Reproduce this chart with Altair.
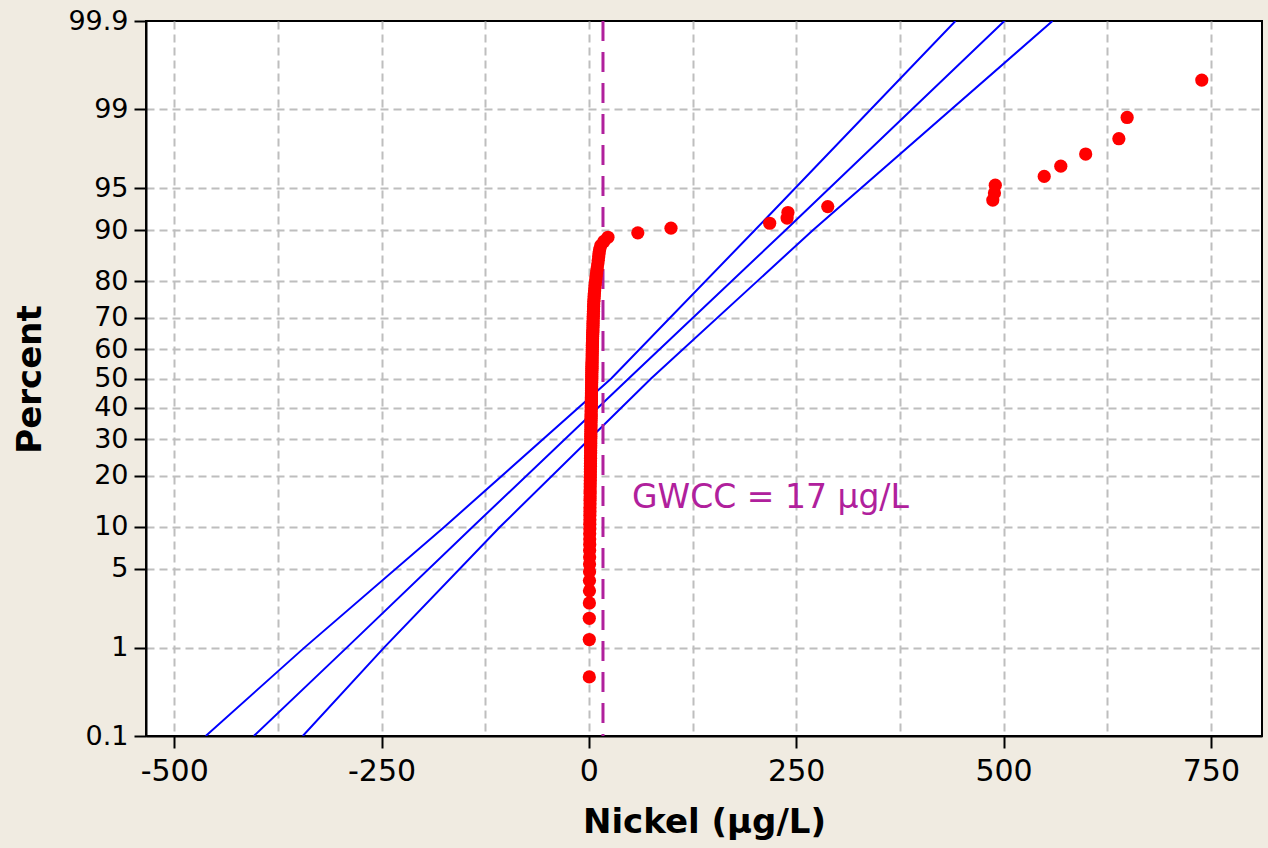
import altair as alt
import pandas as pd
from statistics import NormalDist

# ---------------- data ----------------
nickel_ugL = [
    0.5, 0.5, 0.5, 0.6, 0.7, 0.7, 0.8, 0.8, 0.9, 0.9, 1.0, 1.0, 1.0, 1.1,
    1.1, 1.2, 1.2, 1.3, 1.3, 1.4, 1.4, 1.5, 1.5, 1.5, 1.6, 1.6, 1.7, 1.7, 1.8, 1.8, 1.8,
    1.9, 1.9, 2.0, 2.0, 2.0, 2.1, 2.1, 2.1, 2.2, 2.2, 2.2, 2.3, 2.3, 2.3, 2.4, 2.4,
    2.5, 2.5, 2.5, 2.6, 2.6, 2.7, 2.7, 2.7, 2.8, 2.8, 2.9, 2.9, 3.0, 3.0, 3.0, 3.1, 3.1,
    3.2, 3.2, 3.3, 3.3, 3.4, 3.4, 3.5, 3.5, 3.5, 3.6, 3.6, 3.7, 3.7, 3.8, 3.8, 3.9, 3.9,
    4.0, 4.0, 4.1, 4.1, 4.2, 4.2, 4.3, 4.4, 4.4, 4.5, 4.6, 4.7, 4.8,
    4.9, 5.0, 5.0, 5.1, 5.2, 5.3, 5.4, 5.5, 5.6, 5.7, 5.8, 6.0, 6.2,
    6.4, 6.6, 6.9, 7.2, 7.5, 7.9, 8.3, 8.7, 9.2, 9.7,
    10.2, 10.8, 11.3, 11.8,
    12.3, 13.0, 14.4, 18, 23,
    59, 99, 218, 239, 240, 288, 487, 489, 490, 549, 569, 599, 639, 649, 739,
]

# fitted line and confidence bounds, read at these percent levels
line_pct = [0.1, 1, 10, 50, 90, 99.9]
lower_bound = [-462, -343, -174, 27, 200, 442]
fit_line = [-404, -292, -140, 48, 237, 501]
upper_bound = [-345, -247, -107, 75, 270, 559]

tick_pct = [0.1, 1, 5, 10, 20, 30, 40, 50, 60, 70, 80, 90, 95, 99, 99.9]
tick_pct_labels = ["0.1", "1", "5", "10", "20", "30", "40", "50", "60", "70",
                   "80", "90", "95", "99", "99.9"]
x_ticks = [-500, -375, -250, -125, 0, 125, 250, 375, 500, 625, 750]

gwcc = 17
gwcc_label = "GWCC = 17 µg/L"
gwcc_label_x = 52
gwcc_label_pct = 15

# ---------------- transforms ----------------
nd = NormalDist()
n = len(nickel_ugL)
vals = sorted(nickel_ugL)
pts = pd.DataFrame({
    "x": vals,
    "z": [nd.inv_cdf((i - 0.3) / (n + 0.4)) for i in range(1, n + 1)],
})

rows = []
for name, arr in [("lower", lower_bound), ("fit", fit_line), ("upper", upper_bound)]:
    for p, v in zip(line_pct, arr):
        rows.append({"x": v, "z": nd.inv_cdf(p / 100), "series": name})
lines = pd.DataFrame(rows)

tick_z = [nd.inv_cdf(p / 100) for p in tick_pct]
zmin, zmax = tick_z[0], tick_z[-1]

# label expression (z -> percent label)
expr = f"'{tick_pct_labels[-1]}'"
for k in range(len(tick_z) - 2, -1, -1):
    mid = (tick_z[k] + tick_z[k + 1]) / 2
    expr = f"datum.value < {mid:.5f} ? '{tick_pct_labels[k]}' : ({expr})"

rule_df = pd.DataFrame({"x": [gwcc]})
text_df = pd.DataFrame({"x": [gwcc_label_x], "z": [nd.inv_cdf(gwcc_label_pct / 100)],
                        "label": [gwcc_label]})

FONT = "DejaVu Sans"

x_axis = alt.Axis(
    values=x_ticks,
    labelExpr="datum.value % 250 == 0 ? toString(datum.value) : ''",
    tickOpacity={"condition": {"test": "datum.value % 250 == 0", "value": 1}, "value": 0},
    grid=True, gridColor="#BEBEBE", gridDash=[8, 5], gridWidth=2,
    labelPadding=8, labelFontSize=30,
    titleY=86, titleBaseline="middle",
)
y_axis = alt.Axis(
    values=tick_z,
    labelExpr=expr,
    grid=True, gridColor="#BEBEBE", gridDash=[8, 5], gridWidth=2,
    gridOpacity={"condition": {"test": "abs(datum.value) > 3", "value": 0}, "value": 1},
    labelPadding=6, labelFontSize=27,
    titleX=-116, titleY=358, titleBaseline="middle", titleAngle=-90,
)

X = alt.X("x:Q", scale=alt.Scale(domain=[-534, 811.6], nice=False, zero=False),
          axis=x_axis, title="Nickel (µg/L)")
Y = alt.Y("z:Q", scale=alt.Scale(domain=[zmin, zmax], nice=False, zero=False),
          axis=y_axis, title="Percent")

line_layer = alt.Chart(lines).mark_line(color="#0000FF", strokeWidth=2, clip=True).encode(
    x=X, y=Y, detail="series:N", order="z:Q"
)
rule_layer = alt.Chart(rule_df).mark_rule(color="#B0209C", strokeWidth=3,
                                          strokeDash=[20, 11]).encode(x=X)
pt_layer = alt.Chart(pts).mark_circle(color="#FF0000", size=175, opacity=1).encode(x=X, y=Y)
text_layer = alt.Chart(text_df).mark_text(
    align="left", baseline="middle", font=FONT, fontSize=33, color="#B0209C"
).encode(x=X, y=Y, text="label:N")

chart = alt.layer(line_layer, rule_layer, pt_layer, text_layer).properties(
    width=1116, height=715,
    background="#F0EBE1",
    padding={"left": 146, "top": 21, "right": 6, "bottom": 112},
    autosize="none",
).configure_view(
    stroke="black", strokeWidth=2, fill="white"
).configure_axis(
    domainColor="black", domainWidth=2, tickColor="black", tickWidth=2, tickSize=12,
    labelFont=FONT, labelColor="black",
    titleFont=FONT, titleFontSize=34, titleFontWeight="bold", titleColor="black",
)

chart.save("out.html", embed_options={"renderer": "svg", "actions": False})
